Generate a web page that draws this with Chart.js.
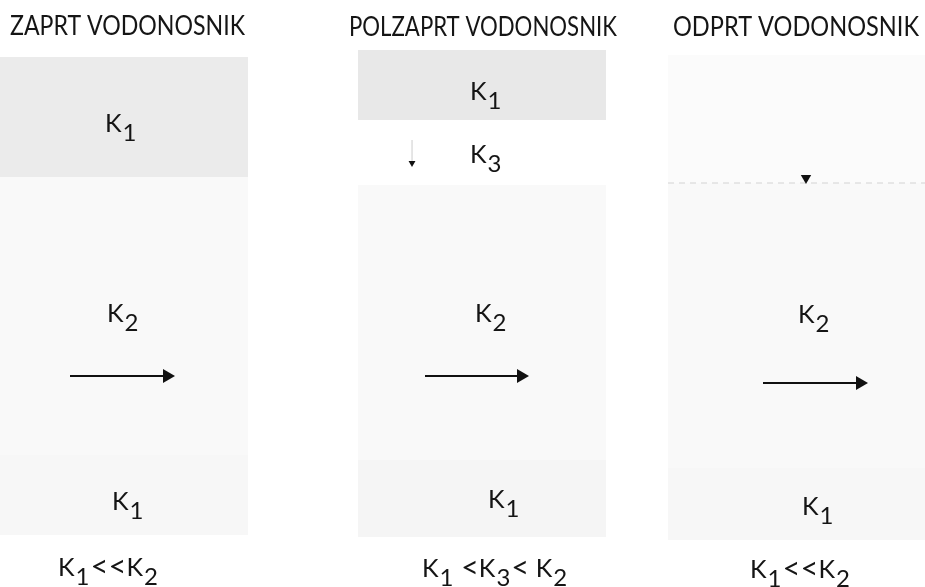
<!DOCTYPE html>
<html>
<head>
<meta charset="utf-8">
<script src="https://cdn.jsdelivr.net/npm/chart.js@4.4.1/dist/chart.umd.min.js"></script>
<style>
html,body{margin:0;padding:0;background:#ffffff;}
#wrap{width:925px;height:587px;}
</style>
</head>
<body>
<div id="wrap"><canvas id="c" width="925" height="587"></canvas></div>
<script>
// ---- diagram data (diagram units: x 0..925, y 0..587 from top) ----
const titles      = ['ZAPRT VODONOSNIK', 'POLZAPRT VODONOSNIK', 'ODPRT VODONOSNIK'];
const titleLeft   = [10, 349, 673];
const titleRight  = [245, 617, 919];
const titleBase   = [35, 36, 36];

// layers (rectangles): left, right, top, bottom, shade
const layerLeft   = [0,   0,   0,   358, 358, 358, 668, 668, 668];
const layerRight  = [248, 248, 248, 606, 606, 606, 925, 925, 925];
const layerTop    = [57,  177, 455, 50,  185, 460, 55,  183, 468];
const layerBottom = [177, 455, 535, 120, 460, 537, 183, 468, 540];
const layerShade  = ['#ebebeb', '#f9f9f9', '#f7f7f7', '#e8e8e8', '#f9f9f9', '#f5f5f5', '#fbfbfb', '#f9f9f9', '#f7f7f7'];

// layer labels ("_" marks a subscript digit)
const labelText = ['K_1', 'K_2', 'K_1', 'K_1', 'K_3', 'K_2', 'K_1', 'K_2', 'K_1'];
const labelX    = [105,   107,   112,   470,   470,   475,   488,   798,   802];
const labelY    = [132,   322,   510,   100,   163,   322,   508,   323,   515];

// relations under each column
const relText = ['K_1<<K_2', 'K_1 <K_3< K_2', 'K_1<<K_2'];
const relX    = [58, 422, 750];
const relY    = [576, 577, 578];

// flow arrows
const arrowX0 = [70, 425, 763];
const arrowX1 = [167, 521, 860];
const arrowY  = [376, 376, 383];

// water table (open aquifer) and its marker
const wtX = [668, 925];
const wtY = [183, 183];
const wtMarkX = [806];
const wtMarkY = [178];

// leakage arrow (semi-confined aquifer)
const leakX = [412, 412];
const leakY = [140, 163];

// ---- build datasets ----
const datasets = [];
for (let i = 0; i < layerLeft.length; i++) {
  datasets.push({
    data: [{x: layerLeft[i], y: layerTop[i]}, {x: layerRight[i], y: layerTop[i]}],
    showLine: true, borderWidth: 0, pointRadius: 0,
    backgroundColor: layerShade[i], borderColor: 'rgba(0,0,0,0)',
    fill: '+1', order: 10
  });
  datasets.push({
    data: [{x: layerLeft[i], y: layerBottom[i]}, {x: layerRight[i], y: layerBottom[i]}],
    showLine: true, borderWidth: 0, pointRadius: 0,
    borderColor: 'rgba(0,0,0,0)', fill: false, order: 10
  });
}
for (let i = 0; i < arrowX0.length; i++) {
  datasets.push({
    data: [{x: arrowX0[i], y: arrowY[i]}, {x: arrowX1[i], y: arrowY[i]}],
    showLine: true, borderColor: '#111', borderWidth: 2,
    pointStyle: 'triangle', pointRotation: 90,
    pointRadius: [0, 8], pointBackgroundColor: '#111', pointBorderColor: '#111', pointBorderWidth: 0,
    fill: false, order: 1
  });
}
datasets.push({
  data: wtX.map((x, i) => ({x: x, y: wtY[i]})),
  showLine: true, borderColor: '#d4d4d4', borderWidth: 1.2, borderDash: [6, 5],
  pointRadius: 0, fill: false, order: 2
});
datasets.push({
  data: wtMarkX.map((x, i) => ({x: x, y: wtMarkY[i]})),
  showLine: false, pointStyle: 'triangle', pointRotation: 180, pointRadius: 6,
  pointBackgroundColor: '#111', pointBorderColor: '#111', pointBorderWidth: 0, order: 1
});
datasets.push({
  data: leakX.map((x, i) => ({x: x, y: leakY[i]})),
  showLine: true, borderColor: '#e2e2e2', borderWidth: 1,
  pointStyle: 'triangle', pointRotation: 180, pointRadius: [0, 4],
  pointBackgroundColor: '#111', pointBorderColor: '#111', pointBorderWidth: 0,
  fill: false, order: 1
});

// ---- text plugin ----
const FONT = 'Lato, "Open Sans", "DejaVu Sans", sans-serif';
function drawRich(ctx, str, x, y, size) {
  let cx = x;
  for (let i = 0; i < str.length; i++) {
    let ch = str[i];
    let sub = false;
    if (ch === '_') { sub = true; i++; ch = str[i]; }
    if (sub) {
      ctx.font = '400 ' + Math.round(size * 0.95) + 'px ' + FONT;
      ctx.fillText(ch, cx + 1, y + size * 0.34);
      cx += ctx.measureText(ch).width + 2;
    } else if (ch === '<') {
      ctx.font = '400 ' + Math.round(size * 1.25) + 'px ' + FONT;
      ctx.fillText(ch, cx, y + 1);
      cx += ctx.measureText(ch).width;
    } else {
      ctx.font = '400 ' + size + 'px ' + FONT;
      ctx.fillText(ch, cx, y);
      cx += ctx.measureText(ch).width;
    }
  }
}
const textPlugin = {
  id: 'diagramText',
  afterDatasetsDraw(chart) {
    const ctx = chart.ctx, xs = chart.scales.x, ys = chart.scales.y;
    ctx.save();
    ctx.fillStyle = '#151515';
    ctx.textBaseline = 'alphabetic';
    ctx.textAlign = 'left';
    titles.forEach((t, i) => {
      const x0 = xs.getPixelForValue(titleLeft[i]);
      const x1 = xs.getPixelForValue(titleRight[i]);
      const y = ys.getPixelForValue(titleBase[i]);
      ctx.font = '400 26px ' + FONT;
      const w = ctx.measureText(t).width;
      ctx.save();
      ctx.translate(x0, y);
      ctx.scale((x1 - x0) / w, 1);
      ctx.fillText(t, 0, 0);
      ctx.restore();
    });
    labelText.forEach((t, i) => {
      drawRich(ctx, t, xs.getPixelForValue(labelX[i]), ys.getPixelForValue(labelY[i]), 25);
    });
    relText.forEach((t, i) => {
      drawRich(ctx, t, xs.getPixelForValue(relX[i]), ys.getPixelForValue(relY[i]), 25);
    });
    ctx.restore();
  }
};

new Chart(document.getElementById('c'), {
  type: 'scatter',
  data: { datasets: datasets },
  options: {
    responsive: false,
    animation: false,
    events: [],
    layout: { padding: 0, autoPadding: false },
    plugins: { legend: { display: false }, tooltip: { enabled: false }, title: { display: false } },
    scales: {
      x: { type: 'linear', min: 0, max: 925, display: false },
      y: { type: 'linear', min: 0, max: 587, reverse: true, display: false }
    }
  },
  plugins: [textPlugin]
});
</script>
</body>
</html>
